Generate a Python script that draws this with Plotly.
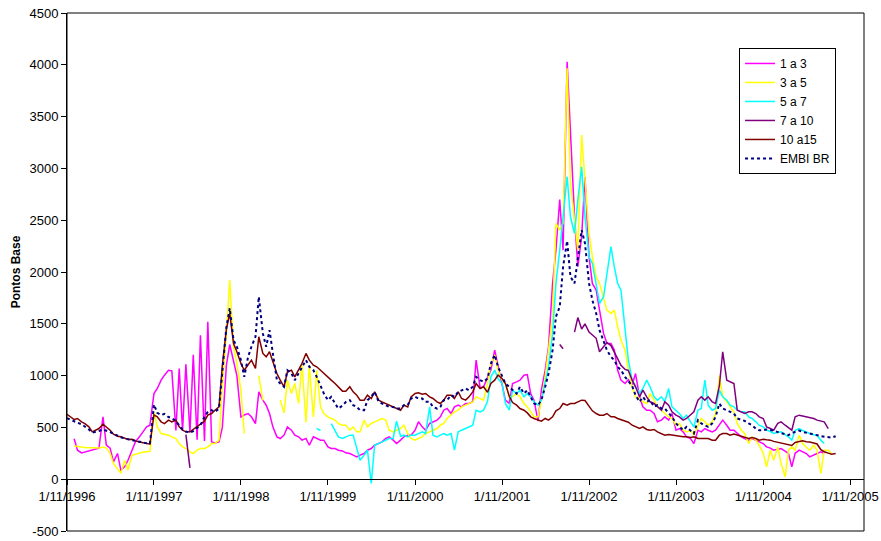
import plotly.graph_objects as go
import pandas as pd

N = None
# semi-monthly sampling grid (1st and 15th of each month), Nov 1996 .. Sep 2005
dates = pd.date_range('1996-11-01', periods=213, freq='SMS')

s_1a3 = (
    [N, N, 390, 280, 254, 264, 273, 280, 296, 300, 602, 330, 300, 167, 248, 87, 119, 183, 280, 360, 409, 457, 505, 521]
    + [827, 876, 956, 1004, 1052, 1046, 470, 1069, 470, 1110, 450, 1200, 380, 1390, 370, 1520, 360, 350, 360, 500, 1100, 1300, 1150, 1000]
    + [600, 620, 634, 602, 537, 843, 763, 715, 634, 505, 409, 393, 425, 505, 473, 425, 409, 377, 393, 328, 409, 393, 377, 377]
    + [312, 296, 296, 280, 273, 255, 248, 232, 216, 232, 248, 280, 296, 328, 344, 360, 393, 409, 377, 344, 377, 409, 425, 425]
    + [473, 554, 505, 473, 538, 554, 570, 602, 666, 682, 634, 698, 715, 698, 731, 731, 747, 1149, 880, 892, 988, 1053, 1246, 1085]
    + [924, 763, 731, 924, 940, 956, 1004, 1010, 827, 763, 560, 859, 1053, 1278, 1890, 2211, 2700, 2211, 4030, 3300, 2533, 2051, 2340, 2920]
    + [2147, 1890, 1825, 1632, 1407, 1310, 1310, 1246, 1053, 956, 924, 960, 908, 1020, 795, 699, 666, 666, 634, 554, 570, 602, 570, 634]
    + [473, 489, 457, 409, 393, 344, 473, 457, 489, 473, 457, 473, 521, 570, 521, 473, 473, 441, 409, 393, 377, 393, 377, 360]
    + [344, 312, 300, 280, 290, 296, 270, 248, 119, 250, 280, 265, 248, 216, 230, 248, 264, 248, N, N, N]
)

s_3a5 = (
    [N, N, 320, 318, 310, 305, 305, 300, 305, 300, 310, 300, 250, 150, 100, 60, 180, 90, 230, 240, 250, 260, 265, 270]
    + [650, 505, 441, 435, 425, 409, 393, 344, 312, 296, 264, 248, 280, 296, 296, 312, 344, 344, 377, 900, 1407, 1922, 1278, 1117]
    + [860, 441, N, N, N, 1000, 760, N, N, N, N, 763, 640, 956, 827, 924, 731, 1117, 550, 1100, 600, 1050, 698, 634]
    + [602, 586, 570, 537, 521, 521, 473, 505, 457, 457, 570, 505, 538, 554, 570, 586, 570, 473, 457, 473, 489, 521, 441, 393]
    + [377, 393, 409, 441, 457, 473, 489, 521, 538, 586, 618, 650, 666, 698, 715, 731, 747, 795, 779, 763, 924, 1117, 1198, 1053]
    + [956, 924, 795, 795, 827, 795, 731, 698, 650, 602, 602, 763, 988, 1246, 1568, 2469, 2405, 2469, 3966, 2855, 2469, 2211, 3322, 2855]
    + [2372, 2147, 1954, 1890, 1761, 1632, 1600, 1632, 1471, 1342, 1246, 1050, 892, 795, 779, 747, 731, 827, 763, 699, 666, 634, 602, 586]
    + [521, 538, 473, 457, 473, 425, 505, 586, 554, 521, 554, 634, 1000, 795, 747, 699, 650, 538, 473, 441, 344, 409, 377, 328]
    + [250, 119, 280, 183, 312, 151, 23, 280, 312, 280, 425, 344, 312, 280, 328, 280, 55, 280, 280, 248, N]
)

s_5a7 = (
    [N] * 24
    + [N] * 24
    + [N] * 21 + [490, 470, N]
    + [N, 537, 470, 409, 393, 409, 425, 425, 300, 183, 232, 280, -40, 328, 344, 360, 377, 393, 393, 560, 415, 425, 409, 425]
    + [425, 441, 457, 441, 698, 425, 409, 425, 441, 425, 441, 280, 457, 473, 489, 505, 521, 666, 650, 666, 750, 988, 1053, 972]
    + [924, 731, 666, 859, 827, 859, 795, 827, 795, 747, 715, 763, 924, 1085, 1407, 1890, 2211, 2533, 2920, 2533, 2372, 2694, 3016, 2533]
    + [2147, 2083, 1890, 1696, 1761, 2000, 2244, 2051, 1890, 1825, 1471, 1150, 956, 892, 827, 876, 956, 892, 795, 763, 795, 747, 876, 699]
    + [666, 634, 586, 618, 554, 505, 666, 682, 956, 715, 666, 682, 859, 795, 763, 715, 699, 666, 650, 650, 602, 586, 554, 521]
    + [505, 473, 460, 441, 450, 457, 430, 409, 377, 473, 489, 470, 457, 441, 430, 425, 377, 344, N, N, N]
)

s_7a10 = (
    [N] * 24
    + [N] * 9 + [430, 110] + [N] * 13
    + [N] * 24
    + [N] * 24
    + [N] * 24
    + [N] * 16 + [1300, 1260, N, N, 1420, 1560, 1450, 1500]
    + [1420, 1390, 1360, 1230, 1280, 1320, 1290, 1230, 1170, 1100, 1060, 1050, 956, 892, 795, 859, 795, 747, 731, 699, 666, 747, 715, 650]
    + [618, 602, 570, 586, 618, 650, 763, 795, 763, 795, 747, 731, 900, 1230, 956, 940, 924, 666, 650, 634, 650, 650, 634, 602]
    + [586, 505, 490, 473, 540, 554, 521, 500, 473, 602, 618, 610, 602, 595, 586, 570, 560, 554, 489, N, N]
)

s_10a15 = (
    [625, 602, 576, 586, 554, 537, 505, 457, 473, 489, 531, 505, 473, 435, 415, 409, 393, 383, 386, 370, 360, 351, 344, 338]
    + [620, 602, 554, 537, 570, 554, 570, 505, 473, 457, 457, 480, 505, 531, 560, 618, 634, 666, 698, 1100, 1450, 1600, 1310, 1230]
    + [1117, 1052, 1101, 1149, 1069, 1375, 1214, 1181, 1230, 1133, 1020, 956, 892, 1036, 1052, 988, 1052, 1117, 1214, 1149, 1101, 1085, 1052, 1020]
    + [988, 956, 924, 892, 850, 850, 892, 843, 811, 763, 763, 811, 779, 843, 763, 747, 731, 715, 698, 682, 666, 715, 698, 795]
    + [827, 834, 821, 827, 795, 779, 747, 731, 763, 811, 811, 779, 843, 779, 763, 795, 843, 924, 876, 892, 840, 924, 956, 1004]
    + [972, 924, 800, 740, 715, 682, 666, 640, 602, 586, 570, 560, 586, 570, 602, 660, 682, 731, 715, 731, 731, 747, 763, 760]
    + [700, 660, 634, 618, 618, 634, 602, 602, 586, 576, 560, 550, 521, 505, 489, 505, 480, 473, 480, 457, 441, 425, 431, 425]
    + [415, 415, 409, 409, 402, 409, 393, 393, 393, 393, 377, 377, 425, 441, 441, 425, 435, 425, 415, 409, 393, 402, 393, 377]
    + [385, 380, 377, 365, 355, 350, 340, 330, 325, 355, 365, 370, 362, 360, 350, 340, 285, 265, 252, 241, 248]
)

s_embi = (
    [590, 575, 555, 545, 530, 510, 480, 450, 455, 465, 480, 470, 455, 440, 420, 405, 393, 385, 380, 370, 360, 350, 345, 340]
    + [720, 640, 620, 630, 600, 590, 560, 520, 480, 460, 450, 465, 490, 520, 602, 650, 666, 650, 682, 1050, 1470, 1650, 1342, 1278]
    + [1149, 988, 1181, 1278, 1375, 1761, 1407, 1278, 1439, 1214, 956, 924, 892, 1052, 1020, 956, 1020, 1085, 1149, 1085, 1052, 988, 892, 827]
    + [763, 795, 731, 682, 710, 745, 763, 715, 698, 666, 666, 763, 795, 843, 747, 731, 715, 698, 698, 682, 682, 715, 715, 779]
    + [795, 779, 779, 747, 747, 698, 682, 698, 763, 763, 811, 795, 843, 859, 876, 859, 892, 988, 956, 940, 972, 1117, 1200, 1085]
    + [1004, 924, 892, 859, 827, 892, 827, 859, 795, 731, 715, 763, 892, 1020, 1246, 1568, 1664, 2050, 2300, 1954, 1890, 2147, 2405, 2276]
    + [1890, 1729, 1600, 1439, 1342, 1246, 1181, 1149, 1085, 1053, 988, 950, 900, 811, 747, 795, 747, 763, 699, 715, 682, 682, 634, 602]
    + [538, 505, 473, 505, 473, 441, 570, 538, 521, 505, 538, 602, 731, 682, 666, 650, 634, 586, 570, 563, 538, 521, 489, 473]
    + [473, 480, 475, 470, 455, 447, 435, 425, 445, 457, 470, 457, 450, 441, 430, 425, 415, 409, 402, 402, 415]
)

tick_dates = ['1996-11-01', '1997-11-01', '1998-11-01', '1999-11-01', '2000-11-01',
              '2001-11-01', '2002-11-01', '2003-11-01', '2004-11-01', '2005-11-01']
tick_labels = ['1/11/1996', '1/11/1997', '1/11/1998', '1/11/1999', '1/11/2000',
               '1/11/2001', '1/11/2002', '1/11/2003', '1/11/2004', '1/11/2005']
y_ticks = [-500, 0, 500, 1000, 1500, 2000, 2500, 3000, 3500, 4000, 4500]
y_labels = ['-500', '0', '500', '1000', '1500', '2000', '2500', '3000', '3500', '4000', '4500']

series = [
    ('1 a 3', s_1a3, '#FF00FF', 'solid', 1.5),
    ('3 a 5', s_3a5, '#FFFF00', 'solid', 1.5),
    ('5 a 7', s_5a7, '#00FFFF', 'solid', 1.5),
    ('7 a 10', s_7a10, '#800080', 'solid', 1.5),
    ('10 a15', s_10a15, '#800000', 'solid', 1.5),
    ('EMBI BR', s_embi, '#000080', 'dot', 2),
]

fig = go.Figure()
for name, vals, color, dash, w in series:
    assert len(vals) == len(dates), (name, len(vals))
    fig.add_trace(go.Scatter(x=dates, y=vals, mode='lines', name=name,
                             line=dict(color=color, width=w, dash=dash),
                             connectgaps=False))

fig.update_layout(
    width=881, height=541,
    margin=dict(l=67, r=17, t=13, b=10),
    paper_bgcolor='white', plot_bgcolor='white',
    font=dict(family='Liberation Sans, Arial, sans-serif', size=13, color='black'),
    showlegend=True,
    legend=dict(x=0.8432, y=0.9325, xanchor='left', yanchor='top',
                bgcolor='white', bordercolor='black', borderwidth=1,
                font=dict(size=12), tracegroupgap=0),
    xaxis=dict(type='date', range=['1996-11-01', '2005-12-29'],
               tickmode='array', tickvals=tick_dates, ticktext=tick_labels,
               anchor='free', position=0.1,
               showline=True, linecolor='black', linewidth=1,
               ticks='outside', ticklen=5, tickcolor='black',
               showgrid=False, zeroline=False, tickangle=0, automargin=False),
    yaxis=dict(range=[-500, 4500], tickmode='array', tickvals=y_ticks, ticktext=y_labels,
               showline=True, linecolor='black', linewidth=1,
               ticks='outside', ticklen=5, tickcolor='black',
               showgrid=False, zeroline=False, automargin=False,
               title=dict(text='<b>Pontos Base</b>', font=dict(size=12), standoff=6)),
    shapes=[dict(type='rect', xref='paper', yref='paper', x0=0, y0=0, x1=1, y1=1,
                 line=dict(color='black', width=1), fillcolor='rgba(0,0,0,0)', layer='above')],
)

fig.write_html('out.html', config={'displayModeBar': False},
               post_script="document.body.style.margin='0';")
